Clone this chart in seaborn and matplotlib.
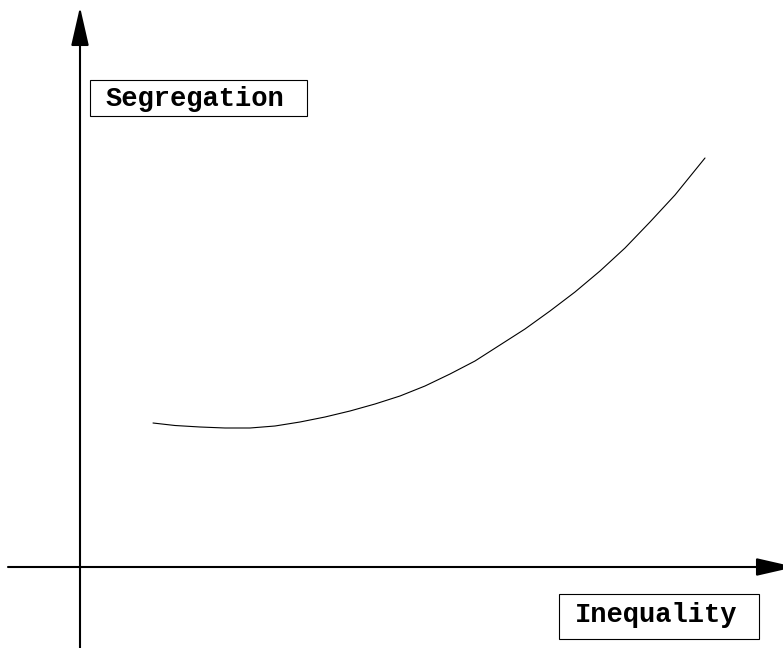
import matplotlib
matplotlib.use("Agg")
import matplotlib.pyplot as plt
from matplotlib.patches import Rectangle
import seaborn as sns
import pandas as pd

# Schematic relationship: segregation as a function of inequality
inequality = [73, 95, 120, 145, 170, 195, 220, 245, 270, 295, 320, 345,
              370, 395, 420, 445, 470, 495, 520, 545, 570, 595, 625]
segregation = [144, 141.5, 140, 139, 139, 141, 145, 150, 156, 163, 171, 181,
               193, 206, 222, 238, 256, 275, 296, 319, 345, 372, 409]

x_label = "Inequality"
y_label = "Segregation"

df = pd.DataFrame({"inequality": inequality, "segregation": segregation})

sns.set_theme(style="white")
plt.rcParams["font.family"] = ["Liberation Mono", "DejaVu Sans Mono"]

fig = plt.figure(figsize=(7.83, 6.48), dpi=100)
ax = fig.add_axes([0, 0, 1, 1])
ax.set_xlim(-80, 703)
ax.set_ylim(-81, 567)
ax.axis("off")

# Axes drawn as arrows through the origin
arrow = dict(arrowstyle="-|>,head_length=2.4,head_width=0.55",
             mutation_scale=10, color="black", lw=1.5,
             shrinkA=0, shrinkB=0)
ax.annotate("", xy=(0, 560), xytext=(0, -81), arrowprops=arrow,
            annotation_clip=False)
ax.annotate("", xy=(715, 0), xytext=(-72, 0), arrowprops=arrow,
            annotation_clip=False)

# The curve
sns.lineplot(data=df, x="inequality", y="segregation", ax=ax,
             color="black", lw=0.8, sort=False)

# Boxed axis labels
ax.add_patch(Rectangle((10, 451), 217, 36, fill=False, ec="black", lw=0.8))
ax.text(115, 461, y_label, ha="center", va="baseline",
        fontsize=19.5, fontweight="bold", color="black")
ax.add_patch(Rectangle((479, -72), 200, 45, fill=False, ec="black", lw=0.8))
ax.text(576, -55, x_label, ha="center", va="baseline",
        fontsize=19.5, fontweight="bold", color="black")

fig.savefig("out.png", dpi=100)
